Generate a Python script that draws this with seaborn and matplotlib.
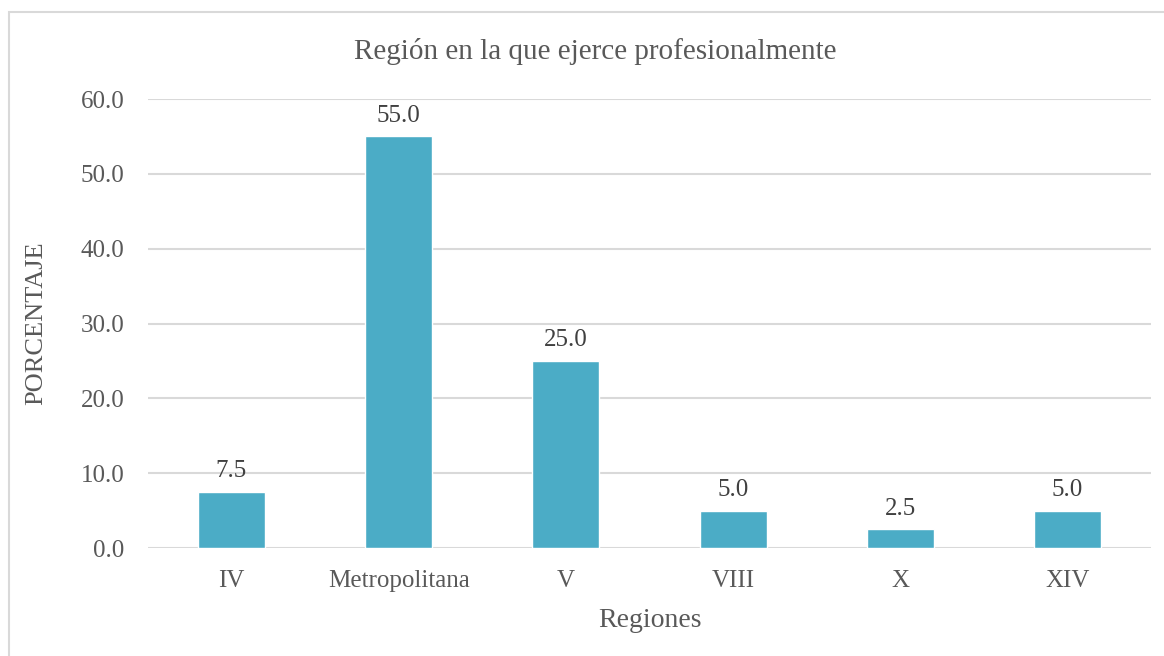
import matplotlib
matplotlib.use("Agg")
import matplotlib.pyplot as plt
from matplotlib.patches import Rectangle
import seaborn as sns
import pandas as pd

# Data
regiones = ["IV", "Metropolitana", "V", "VIII", "X", "XIV"]
porcentaje = [7.5, 55.0, 25.0, 5.0, 2.5, 5.0]
y_ticks = [0, 10, 20, 30, 40, 50, 60]

df = pd.DataFrame({"Regiones": regiones, "Porcentaje": porcentaje})

sns.set_style("white")
plt.rcParams["font.family"] = ["Liberation Serif", "DejaVu Serif"]

text_col = "#595959"
bar_col = "#4BACC6"
grid_col = "#D9D9D9"

fig = plt.figure(figsize=(11.64, 6.56), dpi=100)
ax = fig.add_axes([0.127, 0.1646, 0.862, 0.6844])

sns.barplot(data=df, x="Regiones", y="Porcentaje", color=bar_col,
            saturation=1, width=0.4, ax=ax)

ax.set_ylim(0, 60)
ax.set_yticks(y_ticks)
ax.set_yticklabels([f"{v:.1f}" for v in y_ticks], fontsize=18, color=text_col)
ax.tick_params(axis="x", labelsize=18, labelcolor=text_col, length=0, pad=16)
ax.tick_params(axis="y", length=0, pad=17)
ax.yaxis.grid(True, color=grid_col, linewidth=1.5)
ax.set_axisbelow(True)
for s in ax.spines.values():
    s.set_visible(False)

for p, v in zip(ax.patches, porcentaje):
    ax.annotate(f"{v:.1f}", (p.get_x() + p.get_width() / 2, v),
                xytext=(0, 7), textcoords="offset points",
                ha="center", va="bottom", fontsize=18, color="#404040")

ax.set_xlabel("Regiones", fontsize=20, color=text_col, labelpad=11)
ax.set_ylabel("PORCENTAJE", fontsize=19, color=text_col, labelpad=24)
fig.text(0.511, 0.921, "Región en la que ejerce profesionalmente",
         ha="center", va="center", fontsize=21, color=text_col)

# chart area border (runs off the right and bottom edges)
fig.patches.append(Rectangle((9 / 1164, -0.05), 1.2, 1 - 12 / 656 + 0.05,
                             transform=fig.transFigure, fill=False,
                             edgecolor=grid_col, linewidth=1.5))

fig.savefig("out.png", dpi=100)
